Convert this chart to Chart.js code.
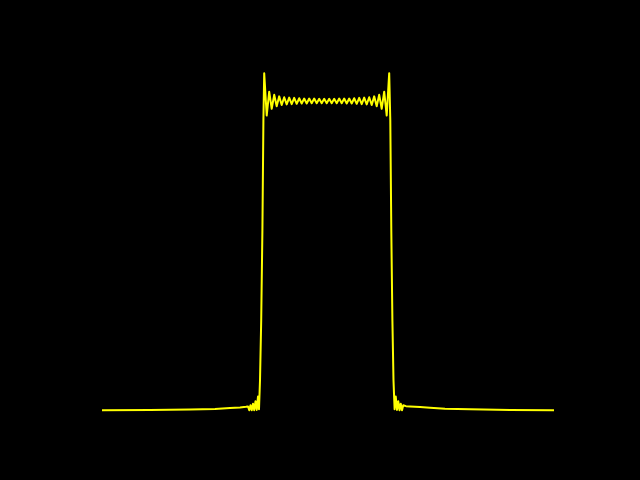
<!DOCTYPE html>
<html>
<head>
<meta charset="utf-8">
<script src="https://cdn.jsdelivr.net/npm/chart.js@4/dist/chart.umd.min.js"></script>
<style>
html,body{margin:0;padding:0;background:#000;}
#c{display:block;background:#000;}
</style>
</head>
<body>
<canvas id="c" width="640" height="480"></canvas>
<script>
// Left tail (sample positions and magnitudes)
const leftTailX = [0, 48, 88, 113, 128, 138, 144, 146, 147.25, 148.5, 149.75, 151, 152.25, 153.5, 154.75, 156, 157];
const leftTailY = [0.001, 0.002, 0.003, 0.005, 0.008, 0.010, 0.012, 0.013, 0.001, 0.017, 0.001, 0.022, 0.001, 0.030, 0.002, 0.045, 0.004];

// Rising edge
const riseX = [158.0, 159.2, 160.4, 161.4];
const riseY = [0.097, 0.291, 0.582, 0.937];

// Pass band ripple (extrema)
const passX = [162.2, 164.7, 167.2, 169.7, 172.2, 174.7, 177.2, 179.7, 182.2, 184.7,
  187.2, 189.7, 192.2, 194.7, 197.2, 199.7, 202.2, 204.7, 207.2, 209.7,
  212.2, 214.7, 217.2, 219.7, 222.2, 224.7, 227.2, 229.7, 232.2, 234.7,
  237.2, 239.7, 242.2, 244.7, 247.2, 249.7, 252.2, 254.7, 257.2, 259.7,
  262.2, 264.7, 267.2, 269.7, 272.2, 274.7, 277.2, 279.7, 282.2, 284.7, 287.2];
const passY = [1.090, 0.953, 1.030, 0.975, 1.020, 0.983, 1.015, 0.987, 1.012, 0.989,
  1.011, 0.990, 1.010, 0.991, 1.009, 0.992, 1.008, 0.992, 1.008, 0.993,
  1.008, 0.993, 1.007, 0.993, 1.007, 0.993, 1.007, 0.993, 1.007, 0.993,
  1.008, 0.993, 1.008, 0.992, 1.008, 0.992, 1.009, 0.991, 1.010, 0.990,
  1.011, 0.989, 1.012, 0.987, 1.015, 0.983, 1.020, 0.975, 1.030, 0.953, 1.090];

// Falling edge
const fallX = [288.3, 289.3, 290.4, 291.5];
const fallY = [0.937, 0.582, 0.291, 0.097];

// Right tail
const rightTailX = [292.6, 293.75, 295, 296.25, 297.5, 298.75, 300, 301.25, 304, 308, 318, 328, 343, 368, 408, 452];
const rightTailY = [0.004, 0.045, 0.002, 0.030, 0.001, 0.022, 0.001, 0.017, 0.014, 0.013, 0.011, 0.009, 0.006, 0.004, 0.002, 0.001];

const xs = [].concat(leftTailX, riseX, passX, fallX, rightTailX);
const ys = [].concat(leftTailY, riseY, passY, fallY, rightTailY);
const points = xs.map((x, i) => ({x: x, y: ys[i]}));

new Chart(document.getElementById('c'), {
  type: 'line',
  data: {
    datasets: [{
      data: points,
      borderColor: '#ffff00',
      borderWidth: 2,
      borderJoinStyle: 'round',
      borderCapStyle: 'butt',
      pointRadius: 0,
      tension: 0,
      fill: false
    }]
  },
  options: {
    responsive: false,
    animation: false,
    layout: {padding: {left: 102, right: 86, top: 40, bottom: 40}},
    plugins: {legend: {display: false}, tooltip: {enabled: false}},
    scales: {
      x: {type: 'linear', min: 0, max: 452, display: false},
      y: {type: 'linear', min: -0.0953, max: 1.1971, display: false}
    }
  }
});
</script>
</body>
</html>
